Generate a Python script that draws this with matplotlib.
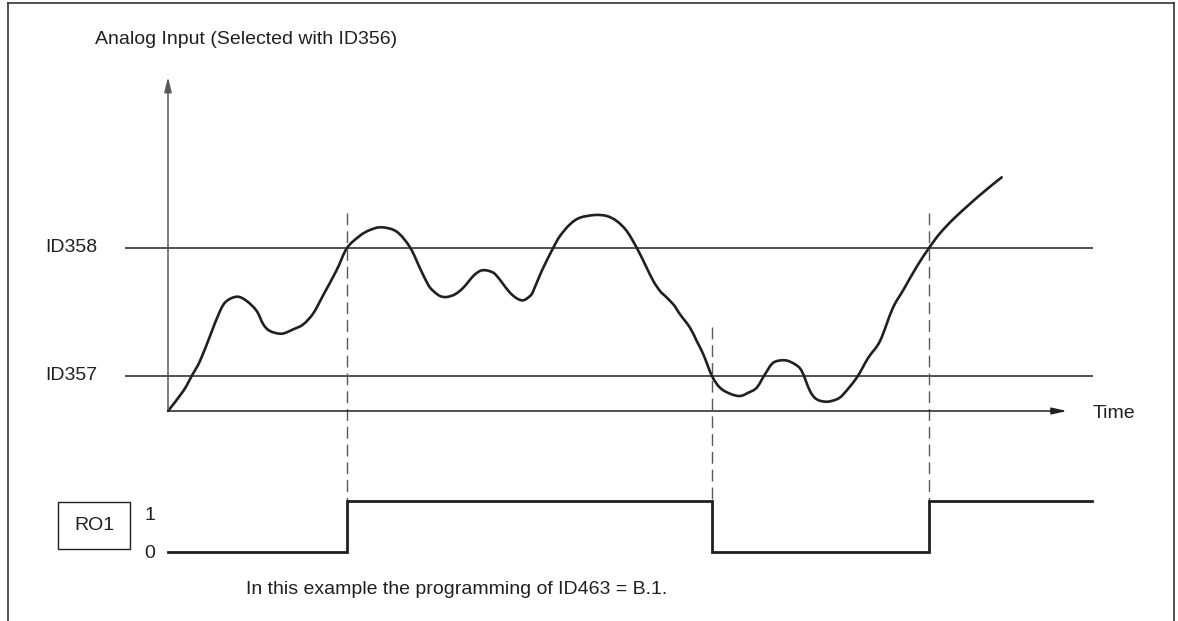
import matplotlib
matplotlib.use("Agg")
import matplotlib.pyplot as plt
from matplotlib.lines import Line2D
from matplotlib.patches import Rectangle, PathPatch
from matplotlib.path import Path

# ---------------- data ----------------
# analog input signal (time, value)
signal_t = [0.0, 1.53, 2.37, 3.2, 4.2, 5.2, 5.87, 6.93, 7.87, 8.87, 9.53, 10.2, 11.37,
            12.53, 13.53, 14.53, 15.53, 16.87, 17.9, 19.2, 20.2, 21.37, 22.87,
            24.2, 25.2, 26.03, 26.53, 27.2, 27.87, 28.7, 29.53, 30.53, 31.2,
            31.8, 32.53, 33.03, 33.53, 34.2, 34.87, 35.53, 36.2, 36.53, 37.37, 38.53,
            39.2, 40.2, 41.2, 42.7, 43.87, 44.87, 45.87, 46.87, 47.7, 48.53, 49.2, 49.53,
            50.53, 51.2, 52.2, 52.87, 53.53, 54.4, 55.2, 56.2, 57.2, 58.03, 58.87, 59.7,
            60.53, 61.7, 62.7, 63.37, 64.2, 64.87, 65.87, 66.87, 67.53, 68.87, 70.03,
            71.2, 72.47, 73.53, 74.87, 76.1, 77.2, 78.7, 81.2, 83.37]
signal_v = [0.0, 2.0, 3.5, 5.0, 7.5, 10.0, 11.0, 11.43, 11.0, 10.0, 8.67, 8.0, 7.73,
            8.17, 8.67, 9.77, 11.6, 14.1, 16.3, 17.53, 18.1, 18.37, 17.93,
            16.37, 14.27, 12.6, 12.0, 11.5, 11.4, 11.67, 12.33, 13.5, 14.0,
            14.07, 13.83, 13.33, 12.67, 11.83, 11.27, 11.07, 11.5, 12.0, 14.0, 16.33,
            17.5, 18.67, 19.33, 19.6, 19.5, 19.0, 18.0, 16.33, 14.67, 13.0, 12.0, 11.67,
            10.67, 9.67, 8.33, 7.0, 5.67, 3.5, 2.33, 1.73, 1.5, 1.83, 2.33, 3.67,
            4.83, 5.07, 4.67, 4.0, 2.0, 1.17, 0.93, 1.17, 1.67, 3.33, 5.33,
            7.0, 10.27, 12.1, 14.43, 16.3, 17.77, 19.35, 21.6, 23.37]

threshold_labels = ["ID358", "ID357"]
threshold_values = [16.3, 3.5]

# relay output RO1 switching
switch_times = [0.0, 17.9, 54.4, 76.1, 92.4]
ro1_states = [0, 1, 0, 1, 1]
dash_tops = [19.8, 8.4, 19.8]   # top of the dashed marker lines (signal units)

ylabel = "Analog Input (Selected with ID356)"
xlabel = "Time"
ro_label = "RO1"
ro_ticks = ["0", "1"]
caption = "In this example the programming of ID463 = B.1."

# ---------------- figure ----------------
W, H = 1178, 621
fig = plt.figure(figsize=(W / 100, H / 100), dpi=100)
plt.rcParams['font.family'] = ['Liberation Sans', 'DejaVu Sans']
INK = "#231f20"
GREY = "#58595b"
FS = 14

ax = fig.add_axes([0, 0, 1, 1])
ax.set_xlim(-16.8, 101.0)
ax.set_ylim(-21.0, 41.1)
ax.axis("off")

ax2 = fig.add_axes([0, 0, 1, 1], sharex=ax)
ax2.set_ylim(-1.358, 10.818)
ax2.axis("off")
ax2.patch.set_alpha(0)


def fx(px):
    return px / W


def fy(py):
    return 1 - py / H


# frame (open at bottom)
frame_kw = dict(color="#333333", lw=1.2, transform=fig.transFigure)
fig.add_artist(Line2D([fx(8), fx(1174)], [fy(3), fy(3)], **frame_kw))
fig.add_artist(Line2D([fx(8), fx(8)], [fy(3), 0], **frame_kw))
fig.add_artist(Line2D([fx(1174), fx(1174)], [fy(3), 0], **frame_kw))

# thresholds
for lab, val in zip(threshold_labels, threshold_values):
    ax.plot([-4.3, 92.5], [val, val], color=INK, lw=1.1, solid_capstyle="butt")
    ax.text(-12.3, val + 0.1, lab, ha="left", va="center", fontsize=FS, color=INK)

# axes arrows
ax.annotate("", xy=(0, 33.4), xytext=(0, 0),
            arrowprops=dict(arrowstyle="-|>,head_length=0.9,head_width=0.22",
                            color=GREY, lw=1.1, shrinkA=0, shrinkB=0))
ax.annotate("", xy=(89.9, 0), xytext=(0, 0),
            arrowprops=dict(arrowstyle="-|>,head_length=0.9,head_width=0.2",
                            color=INK, lw=1.1, shrinkA=0, shrinkB=0))
ax.text(92.5, -0.2, xlabel, ha="left", va="center", fontsize=FS, color=INK)
fig.text(fx(95), fy(40), ylabel, ha="left", va="center", fontsize=FS, color=INK)

# signal: smooth path through the read points (Catmull-Rom as cubic Bezier)
pts = list(zip(signal_t, signal_v))
verts = [pts[0]]
codes = [Path.MOVETO]
n = len(pts)
for i in range(n - 1):
    p0 = pts[i - 1] if i > 0 else pts[i]
    p1 = pts[i]
    p2 = pts[i + 1]
    p3 = pts[i + 2] if i + 2 < n else pts[i + 1]
    c1 = (p1[0] + (p2[0] - p0[0]) / 6, p1[1] + (p2[1] - p0[1]) / 6)
    c2 = (p2[0] - (p3[0] - p1[0]) / 6, p2[1] - (p3[1] - p1[1]) / 6)
    verts += [c1, c2, p2]
    codes += [Path.CURVE4] * 3
ax.add_patch(PathPatch(Path(verts, codes), fill=False, ec=INK, lw=1.9,
                       joinstyle="round", capstyle="round"))

# dashed marker lines down to RO1 high level
fig.canvas.draw()
for t, top in zip(switch_times[1:4], dash_tops):
    disp = ax2.transData.transform((t, 1))
    bottom = ax.transData.inverted().transform(disp)[1]
    ax.plot([t, t], [top, bottom], color=GREY, lw=1.0, dashes=(8.5, 4.3))

# RO1 step
ax2.step(switch_times, ro1_states, where="post", color=INK, lw=2.0,
         solid_joinstyle="miter")
fig.add_artist(Rectangle((fx(58), fy(549)), fx(130) - fx(58), fy(502) - fy(549),
                         fill=False, ec=INK, lw=1.0, transform=fig.transFigure))
fig.text(fx(94), fy(525), ro_label, ha="center", va="center", fontsize=FS, color=INK)
fig.text(fx(150), fy(554), ro_ticks[0], ha="center", va="center", fontsize=FS, color=INK)
fig.text(fx(150), fy(516), ro_ticks[1], ha="center", va="center", fontsize=FS, color=INK)
fig.text(fx(246), fy(590), caption, ha="left", va="center", fontsize=FS, color=INK)

fig.savefig("out.png", dpi=100)
